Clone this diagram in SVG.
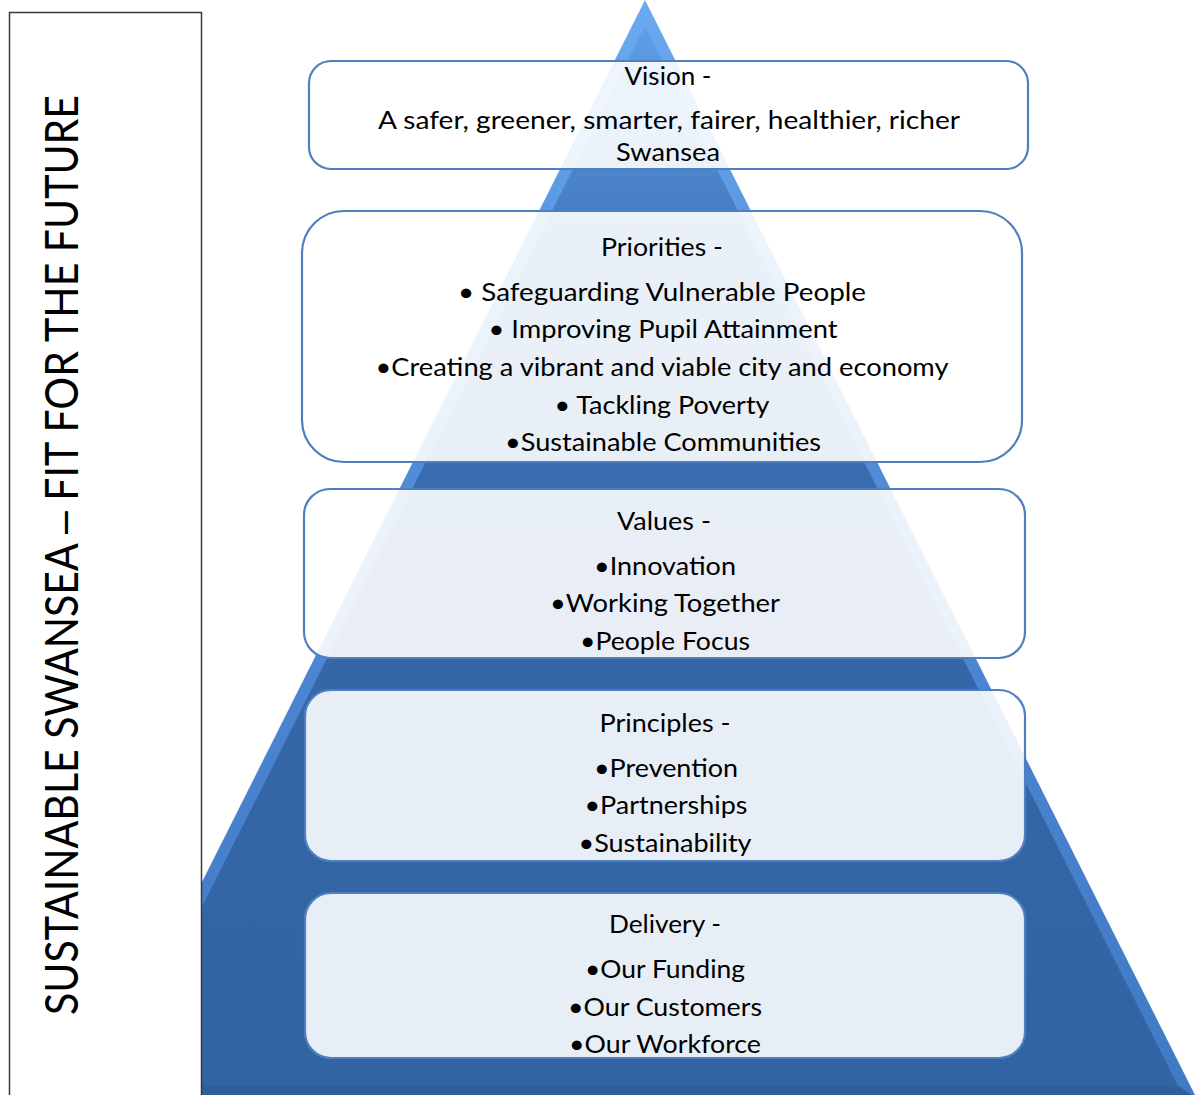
<svg xmlns="http://www.w3.org/2000/svg" width="1196" height="1095" viewBox="0 0 1196 1095">
<style>
.box{fill:#ffffff;fill-opacity:0.89;stroke:#4f7fbf;stroke-width:2.2}
.t{font-family:Lato,"Liberation Sans",sans-serif;font-size:25px;fill:#000;text-anchor:middle}
.side{font-family:Lato,"Liberation Sans",sans-serif;font-size:47px;fill:#000;text-anchor:middle}
</style>
<defs>
<linearGradient id="edge" x1="0" y1="0" x2="0" y2="1">
<stop offset="0" stop-color="#6aaaf0"/>
<stop offset="0.3" stop-color="#5490dc"/>
<stop offset="1" stop-color="#4079c4"/>
</linearGradient>
<linearGradient id="body" x1="0" y1="0" x2="0" y2="1">
<stop offset="0" stop-color="#5f9ee8"/>
<stop offset="0.2" stop-color="#4379c0"/>
<stop offset="0.5" stop-color="#3668a9"/>
<stop offset="1" stop-color="#3263a2"/>
</linearGradient>
</defs>
<rect width="1196" height="1095" fill="#ffffff"/>
<g id="pyramid">
<polygon points="645,0 1196,1097 94,1097" fill="url(#edge)"/>
<polygon points="645,26 1178,1086 112,1086" fill="url(#body)"/>
<polygon points="112,1086 1178,1086 1192,1095 98,1095" fill="#2f5e9a"/>
</g>
<g id="title-panel">
<rect x="9.5" y="12.5" width="192" height="1100" fill="#ffffff" stroke="#3a3a3a" stroke-width="1.5"/>
<text class="side" transform="translate(78,555) rotate(-90)" textLength="920" lengthAdjust="spacingAndGlyphs">SUSTAINABLE SWANSEA <tspan font-family="'Liberation Sans',sans-serif">–</tspan> FIT FOR THE FUTURE</text>
</g>
<g id="vision">
<rect class="box" x="309" y="61" width="719" height="108" rx="22"/>
<text class="t" x="668" y="85" textLength="87" lengthAdjust="spacingAndGlyphs">Vision -</text>
<text class="t" x="669" y="129" textLength="582" lengthAdjust="spacingAndGlyphs">A safer, greener, smarter, fairer, healthier, richer</text>
<text class="t" x="668" y="161" textLength="104" lengthAdjust="spacingAndGlyphs">Swansea</text>
</g>
<g id="priorities">
<rect class="box" x="302" y="211" width="720" height="251" rx="42"/>
<text class="t" x="662" y="256" textLength="122" lengthAdjust="spacingAndGlyphs">Priorities -</text>
<text class="t" x="662" y="301" textLength="408" lengthAdjust="spacingAndGlyphs">•  Safeguarding Vulnerable People</text>
<text class="t" x="663" y="338" textLength="349" lengthAdjust="spacingAndGlyphs">• Improving Pupil Attainment</text>
<text class="t" x="662" y="376" textLength="573" lengthAdjust="spacingAndGlyphs">•Creating a vibrant and viable city and economy</text>
<text class="t" x="662" y="414" textLength="215" lengthAdjust="spacingAndGlyphs">• Tackling Poverty</text>
<text class="t" x="663" y="451" textLength="316" lengthAdjust="spacingAndGlyphs">•Sustainable Communities</text>
</g>
<g id="values">
<rect class="box" x="304" y="489" width="721" height="169" rx="26"/>
<text class="t" x="664" y="530" textLength="94" lengthAdjust="spacingAndGlyphs">Values -</text>
<text class="t" x="665" y="575" textLength="142" lengthAdjust="spacingAndGlyphs">•Innovation</text>
<text class="t" x="665" y="612" textLength="230" lengthAdjust="spacingAndGlyphs">•Working Together</text>
<text class="t" x="665" y="650" textLength="170" lengthAdjust="spacingAndGlyphs">•People Focus</text>
</g>
<g id="principles">
<rect class="box" x="305" y="690" width="720" height="171" rx="26"/>
<text class="t" x="665" y="732" textLength="131" lengthAdjust="spacingAndGlyphs">Principles -</text>
<text class="t" x="666" y="777" textLength="144" lengthAdjust="spacingAndGlyphs">•Prevention</text>
<text class="t" x="666" y="814" textLength="163" lengthAdjust="spacingAndGlyphs">•Partnerships</text>
<text class="t" x="665" y="852" textLength="173" lengthAdjust="spacingAndGlyphs">•Sustainability</text>
</g>
<g id="delivery">
<rect class="box" x="305" y="893" width="720" height="165" rx="26"/>
<text class="t" x="665" y="933" textLength="112" lengthAdjust="spacingAndGlyphs">Delivery -</text>
<text class="t" x="665" y="978" textLength="160" lengthAdjust="spacingAndGlyphs">•Our Funding</text>
<text class="t" x="665" y="1016" textLength="194" lengthAdjust="spacingAndGlyphs">•Our Customers</text>
<text class="t" x="665" y="1053" textLength="192" lengthAdjust="spacingAndGlyphs">•Our Workforce</text>
</g>
</svg>
